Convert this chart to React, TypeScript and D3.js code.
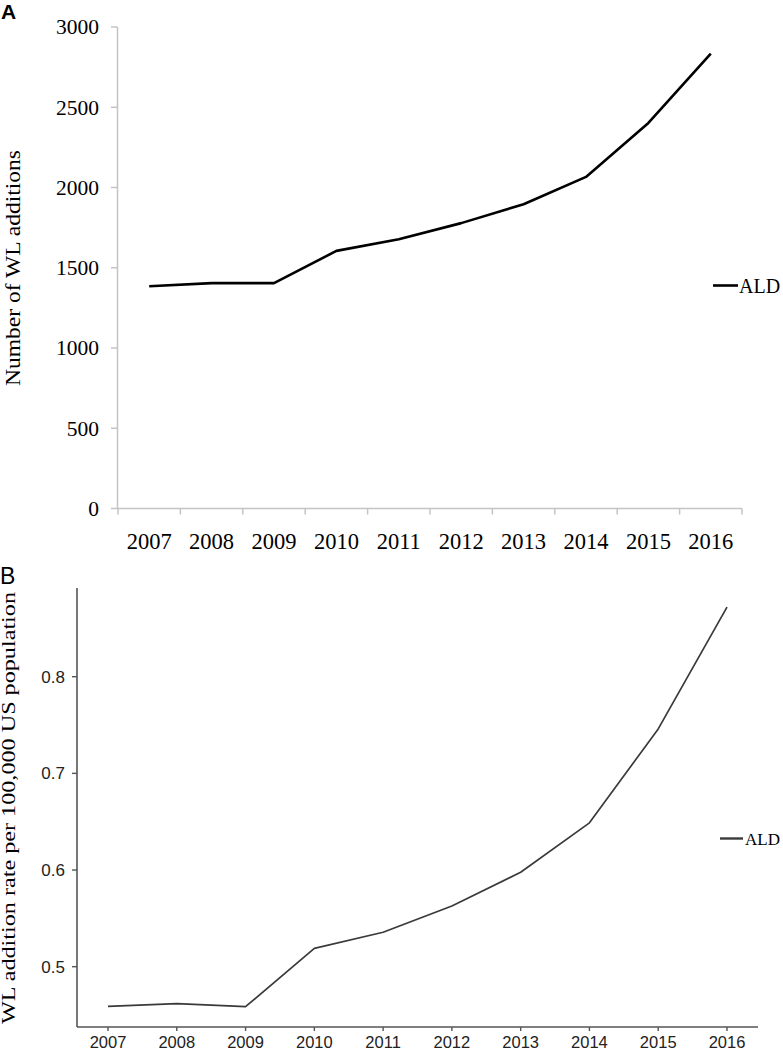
import React from "react";
import * as d3 from "d3";

const years = ["2007", "2008", "2009", "2010", "2011", "2012", "2013", "2014", "2015", "2016"];
const additions = [1385, 1404, 1404, 1605, 1678, 1778, 1896, 2066, 2402, 2834];
const rates = [0.459, 0.4617, 0.4586, 0.519, 0.5356, 0.5628, 0.5977, 0.6488, 0.746, 0.872];
const ticksA = [0, 500, 1000, 1500, 2000, 2500, 3000];
const ticksB = [0.5, 0.6, 0.7, 0.8];
const seriesName = "ALD";

const SERIF = "'Liberation Serif', 'Times New Roman', serif";
const SANS = "'Liberation Sans', Arial, sans-serif";

function PanelA() {
  const x = d3.scaleBand<string>().domain(years).range([118, 742]);
  const y = d3.scaleLinear().domain([0, 3000]).range([508.5, 27]);
  const line = d3
    .line<number>()
    .x((_, i) => (x(years[i]) as number) + x.bandwidth() / 2)
    .y((d) => y(d));
  const axisColor = "#c4c4c4";
  const boundaries = years.map((yr) => x(yr) as number).concat([742]);
  return (
    <g>
      <text x={1} y={19} fontFamily={SANS} fontSize={21} fontWeight="bold">A</text>
      <line x1={117.5} x2={117.5} y1={y(3000)} y2={y(0)} stroke={axisColor} strokeWidth={1.5} />
      {ticksA.map((t) => (
        <g key={t}>
          <line x1={111} x2={117.5} y1={y(t)} y2={y(t)} stroke={axisColor} strokeWidth={1.5} />
          <text x={99} y={y(t)} dy="0.34em" textAnchor="end" fontFamily={SERIF} fontSize={21.5}>
            {t}
          </text>
        </g>
      ))}
      <line x1={117.5} x2={742} y1={y(0)} y2={y(0)} stroke={axisColor} strokeWidth={1.5} />
      {boundaries.map((b, i) => (
        <line key={i} x1={b} x2={b} y1={y(0)} y2={y(0) + 6} stroke={axisColor} strokeWidth={1.5} />
      ))}
      {years.map((yr) => (
        <text
          key={yr}
          x={(x(yr) as number) + x.bandwidth() / 2}
          y={549}
          textAnchor="middle"
          fontFamily={SERIF}
          fontSize={22.5}
        >
          {yr}
        </text>
      ))}
      <path d={line(additions) || ""} fill="none" stroke="#000" strokeWidth={2.6} strokeLinejoin="round" />
      <line x1={713} x2={738} y1={285.5} y2={285.5} stroke="#000" strokeWidth={2.6} />
      <text x={739} y={292.5} fontFamily={SERIF} fontSize={20}>{seriesName}</text>
      <text
        transform={`translate(20,268) rotate(-90)`}
        textAnchor="middle"
        fontFamily={SERIF}
        fontSize={20}
        textLength={236}
        lengthAdjust="spacingAndGlyphs"
      >
        Number of WL additions
      </text>
    </g>
  );
}

function PanelB() {
  const x = d3.scalePoint<string>().domain(years).range([108, 727]);
  const y = d3.scaleLinear().domain([0.5, 0.8]).range([966.7, 676.7]);
  const line = d3
    .line<number>()
    .x((_, i) => x(years[i]) as number)
    .y((d) => y(d));
  const axisColor = "#555";
  const top = 588;
  const bottom = 1027;
  return (
    <g>
      <text x={0} y={584} fontFamily={SANS} fontSize={23}>B</text>
      <line x1={77} x2={77} y1={top} y2={bottom} stroke={axisColor} strokeWidth={1.6} />
      {ticksB.map((t) => (
        <g key={t}>
          <line x1={72} x2={77} y1={y(t)} y2={y(t)} stroke={axisColor} strokeWidth={1.4} />
          <text x={65} y={y(t)} dy="0.36em" textAnchor="end" fontFamily={SANS} fontSize={17} fill="#222">
            {t.toFixed(1)}
          </text>
        </g>
      ))}
      <line x1={77} x2={758} y1={bottom} y2={bottom} stroke={axisColor} strokeWidth={1.6} />
      {years.map((yr) => (
        <g key={yr}>
          <line x1={x(yr) as number} x2={x(yr) as number} y1={bottom} y2={bottom + 4} stroke={axisColor} strokeWidth={1.4} />
          <text x={x(yr) as number} y={1048} textAnchor="middle" fontFamily={SANS} fontSize={16.5} fill="#222">
            {yr}
          </text>
        </g>
      ))}
      <path d={line(rates) || ""} fill="none" stroke="#3a3a3a" strokeWidth={1.7} strokeLinejoin="round" />
      <line x1={720} x2={743} y1={838.5} y2={838.5} stroke="#3a3a3a" strokeWidth={2.4} />
      <text x={745} y={845} fontFamily={SERIF} fontSize={17}>{seriesName}</text>
      <text
        transform={`translate(15,808) rotate(-90)`}
        textAnchor="middle"
        fontFamily={SERIF}
        fontSize={18}
        textLength={432}
        lengthAdjust="spacingAndGlyphs"
      >
        WL addition rate per 100,000 US population
      </text>
    </g>
  );
}

export default function App() {
  return (
    <svg
      width={783}
      height={1050}
      viewBox="0 0 783 1050"
      style={{ position: "absolute", left: 0, top: 0, background: "#fff" }}
    >
      <rect width={783} height={1050} fill="#fff" />
      <PanelA />
      <PanelB />
    </svg>
  );
}
